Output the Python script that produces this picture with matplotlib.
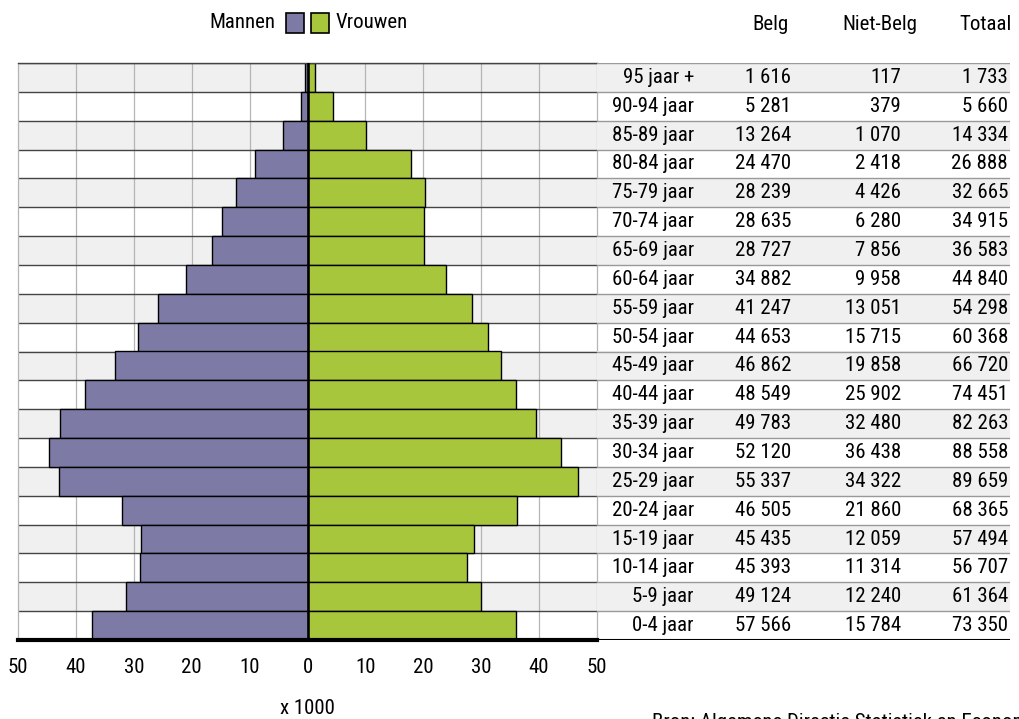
import matplotlib
matplotlib.use("Agg")
import matplotlib.pyplot as plt
from matplotlib.patches import Rectangle
from matplotlib import font_manager

# 尽量用窄体字，找不到就退回 DejaVu Sans
names = {f.name for f in font_manager.fontManager.ttflist}
narrow = [nm for nm in ["Liberation Sans Narrow", "DejaVu Sans Condensed",
                        "Roboto Condensed", "Open Sans Condensed"] if nm in names]
plt.rcParams["font.family"] = narrow + ["DejaVu Sans"]
plt.rcParams["font.stretch"] = "condensed"
FS = 15 if narrow else 12.5

# ── 数据（从上到下）──────────────────────────────────────────────
age_labels = [
    "95 jaar +", "90-94 jaar", "85-89 jaar", "80-84 jaar", "75-79 jaar",
    "70-74 jaar", "65-69 jaar", "60-64 jaar", "55-59 jaar", "50-54 jaar",
    "45-49 jaar", "40-44 jaar", "35-39 jaar", "30-34 jaar", "25-29 jaar",
    "20-24 jaar", "15-19 jaar", "10-14 jaar", "5-9 jaar", "0-4 jaar",
]
mannen = [0.4, 1.2, 4.2, 9.0, 12.4, 14.7, 16.5, 20.9, 25.9, 29.3,
          33.2, 38.4, 42.8, 44.7, 43.0, 32.1, 28.8, 29.0, 31.4, 37.3]
vrouwen = [1.33, 4.46, 10.1, 17.9, 20.3, 20.2, 20.1, 24.0, 28.4, 31.1,
           33.5, 36.0, 39.4, 43.7, 46.7, 36.1, 28.7, 27.6, 30.0, 36.0]
belg = [1616, 5281, 13264, 24470, 28239, 28635, 28727, 34882, 41247, 44653,
        46862, 48549, 49783, 52120, 55337, 46505, 45435, 45393, 49124, 57566]
niet_belg = [117, 379, 1070, 2418, 4426, 6280, 7856, 9958, 13051, 15715,
             19858, 25902, 32480, 36438, 34322, 21860, 12059, 11314, 12240, 15784]
totaal = [1733, 5660, 14334, 26888, 32665, 34915, 36583, 44840, 54298, 60368,
          66720, 74451, 82263, 88558, 89659, 68365, 57494, 56707, 61364, 73350]
x_ticks = [-50, -40, -30, -20, -10, 0, 10, 20, 30, 40, 50]
col_headers = ["Belg", "Niet-Belg", "Totaal"]

C_MAN = "#7d7ba6"
C_WOMAN = "#a8c63c"
C_SHADE = "#f0f0f0"

W, H = 1019, 719
fig = plt.figure(figsize=(W / 100, H / 100), dpi=100)

n = len(age_labels)
ys = [n - 1 - i for i in range(n)]


def fmt(v):
    return f"{v:,}".replace(",", " ")


# ── 金字塔 ───────────────────────────────────────────────────────
ax = fig.add_axes([18 / W, 79 / H, 579 / W, 577 / H])
ax.set_xlim(-50, 50)
ax.set_ylim(-0.5, n - 0.5)

for i, y in enumerate(ys):
    if i % 2 == 0:
        ax.axhspan(y - 0.5, y + 0.5, color=C_SHADE, zorder=0, lw=0)
for xv in x_ticks[1:-1]:
    if xv != 0:
        ax.axvline(xv, color="#b5b5b5", lw=0.9, zorder=0.5)
for y in ys:
    ax.axhline(y + 0.5, color="#444444", lw=1.0, zorder=0.6)

ax.barh(ys, [-m for m in mannen], height=1.0, color=C_MAN,
        edgecolor="black", lw=1.0, zorder=2)
ax.barh(ys, vrouwen, height=1.0, color=C_WOMAN,
        edgecolor="black", lw=1.0, zorder=2)
ax.axvline(0, color="black", lw=1.8, zorder=3)

ax.set_xticks(x_ticks)
ax.set_xticklabels([str(abs(v)) for v in x_ticks], fontsize=FS)
ax.tick_params(axis="x", length=0, pad=13)
ax.set_yticks([])
for s in ["left", "right"]:
    ax.spines[s].set_color("#b5b5b5")
    ax.spines[s].set_linewidth(0.9)
ax.spines["top"].set_color("#444444")
ax.spines["top"].set_linewidth(1.0)
ax.spines["bottom"].set_color("black")
ax.spines["bottom"].set_linewidth(3)

# ── 表格 ─────────────────────────────────────────────────────────
tax = fig.add_axes([597 / W, 79 / H, 413 / W, 577 / H])
tax.set_xlim(597, 1010)
tax.set_ylim(-0.5, n - 0.5)
tax.axis("off")
for i, y in enumerate(ys):
    if i % 2 == 0:
        tax.axhspan(y - 0.5, y + 0.5, color=C_SHADE, zorder=0, lw=0)
    tax.axhline(y + 0.5, color="#999999", lw=1.0, zorder=1)
    tax.text(694, y, age_labels[i], ha="right", va="center", fontsize=FS)
    tax.text(791, y, fmt(belg[i]), ha="right", va="center", fontsize=FS)
    tax.text(901, y, fmt(niet_belg[i]), ha="right", va="center", fontsize=FS)
    tax.text(1008, y, fmt(totaal[i]), ha="right", va="center", fontsize=FS)
tax.axhline(-0.5, color="black", lw=1.5, zorder=2)

for label, xc in zip(col_headers, [770, 880, 986]):
    fig.text(xc / W, 1 - 25 / H, label, ha="center", va="center", fontsize=FS)

# ── 图例 ─────────────────────────────────────────────────────────
fig.text(275 / W, 1 - 23 / H, "Mannen", ha="right", va="center", fontsize=FS)
fig.text(336 / W, 1 - 23 / H, "Vrouwen", ha="left", va="center", fontsize=FS)
fig.add_artist(Rectangle((286 / W, 1 - 33 / H), 18 / W, 20 / H,
                         transform=fig.transFigure, facecolor=C_MAN,
                         edgecolor="black", lw=1.2))
fig.add_artist(Rectangle((311 / W, 1 - 33 / H), 18 / W, 20 / H,
                         transform=fig.transFigure, facecolor=C_WOMAN,
                         edgecolor="black", lw=1.2))

fig.text(307 / W, 1 - 708 / H, "x 1000", ha="center", va="center", fontsize=FS)
fig.text(652 / W, 1 - 713 / H,
         "Bron: Algemene Directie Statistiek en Economische Informatie",
         ha="left", va="top", fontsize=FS)

fig.savefig("out.png", dpi=100)
